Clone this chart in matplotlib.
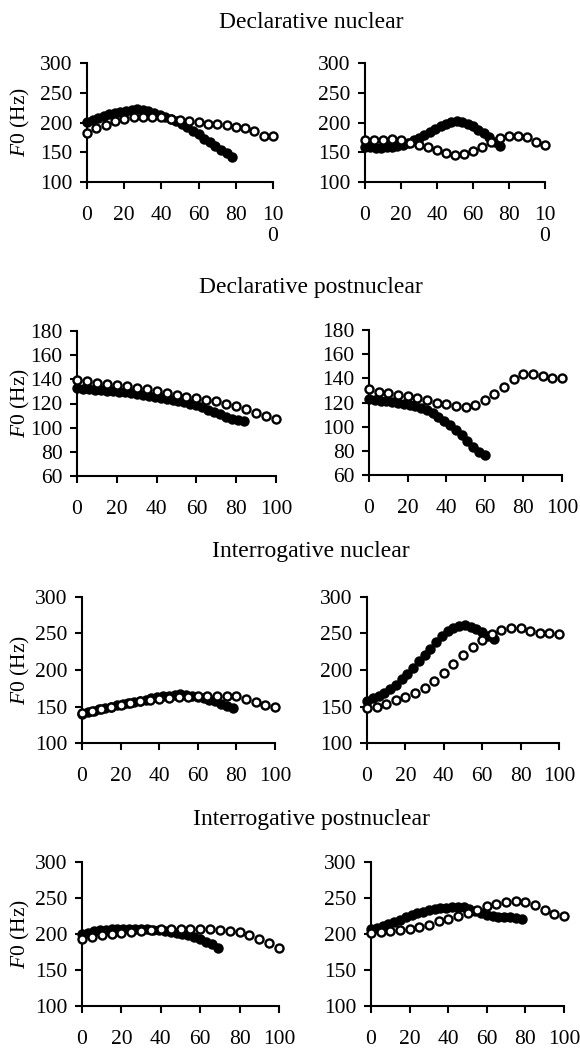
import matplotlib

matplotlib.use("Agg")

import numpy as np
import matplotlib.pyplot as plt

# open circles are sampled every 5 %, filled ones every 3 %
OPEN_X = np.arange(0, 101, 5)

TITLES = ["Declarative nuclear", "Declarative postnuclear",
          "Interrogative nuclear", "Interrogative postnuclear"]

# row 1: declarative nuclear
dn_l_open = [182, 190, 195, 202, 206, 209, 210, 210, 209, 206, 205,
             203, 201, 198, 197, 195, 192, 190, 186, 178, 177]
dn_l_fill_x = np.arange(0, 79, 3)
dn_l_fill = [201, 205, 208, 211, 214, 216, 218, 220, 221, 222, 221, 219,
             216, 213, 210, 206, 202, 197, 192, 186, 180, 173, 167, 161,
             154, 148, 142]
dn_r_open = [171, 170, 171, 173, 170, 166, 162, 159, 153, 148, 145,
             147, 152, 159, 167, 174, 178, 178, 175, 168, 162]
dn_r_fill_x = np.arange(0, 76, 3)
dn_r_fill = [159, 158, 157, 157, 158, 159, 161, 163, 166, 170, 174, 179,
             184, 189, 194, 198, 201, 202, 201, 198, 194, 188, 182, 175,
             167, 160]

# row 2: declarative postnuclear
dp_l_open = [139.8, 138.4, 137.3, 136.5, 135.7, 134.3, 133.2, 132.1, 130.5,
             128.8, 126.9, 125.5, 124.4, 123.3, 121.9, 120, 117.8, 115.3,
             112.3, 109.5, 106.8]
dp_l_fill_x = np.arange(0, 85, 3)
dp_l_fill = [132.5, 132.2, 131.8, 131.4, 131, 130.6, 130.2, 129.7, 129.2,
             128.6, 128, 127.3, 126.5, 125.7, 124.9, 124, 123, 122, 121,
             119.8, 118.5, 117, 115, 113, 111, 109, 107, 106, 105.5]
dp_r_open = [131, 128.5, 127.5, 126, 125, 123.5, 122, 120, 118.5, 117,
             116.5, 118, 122, 127, 133, 139.5, 143.5, 144, 142, 140, 140]
dp_r_fill_x = np.arange(0, 61, 3)
dp_r_fill = [122.5, 122, 121.5, 121, 120.5, 119.8, 119, 118, 117, 115.5,
             113.5, 111, 108, 105, 101.5, 97.5, 93, 88, 83, 79, 76.5]

# row 3: interrogative nuclear
in_l_open = [141, 143.6, 146.8, 149, 152.2, 155, 157.3, 159.2, 160.6, 162,
             162.9, 162.9, 163.8, 164.3, 164.7, 164.3, 163.8, 160.6, 156,
             151.4, 149]
in_l_fill_x = np.arange(0, 79, 3)
in_l_fill = [140, 142, 144, 146, 148, 150, 152, 153.5, 155, 156.5, 158,
             159.5, 161, 162.5, 164, 165, 166, 166.5, 166, 165, 163.5,
             161.5, 159.5, 157, 154, 151, 148]
in_r_open = [148.2, 150, 153.7, 158.3, 162.9, 168.8, 175.7, 185, 196,
             208.9, 220.4, 231.9, 241.1, 248.9, 254.9, 258.1, 257.2, 254,
             250.3, 250.3, 248.9]
in_r_fill_x = np.arange(0, 67, 3)
in_r_fill = [158, 161, 165, 169, 174, 180, 187, 195, 203, 212, 220, 229,
             238, 247, 253, 258, 260.5, 261, 259, 256, 252, 247, 243]

# row 4: interrogative postnuclear
ip_l_open = [193.3, 195.2, 198, 200.2, 202, 203.4, 204.8, 205.7, 206.7,
             207.6, 207.6, 207.1, 206.7, 207.1, 205.7, 204.8, 202.5, 198.9,
             193.3, 187.4, 180.5]
ip_l_fill_x = np.arange(0, 70, 3)
ip_l_fill = [200, 202, 203.5, 205, 206, 206.5, 207, 207.5, 207.5, 207, 207,
             206.5, 206, 205, 204, 203, 201.5, 200, 198, 196, 193, 189.5,
             186, 181]
ip_r_open = [200.7, 202.1, 203.9, 205.3, 207.6, 209.8, 213, 217.6, 221.3,
             224.9, 229.1, 232.7, 238.2, 241.9, 245.1, 246.5, 244.2, 240.5,
             233.6, 228.1, 224.9]
ip_r_fill_x = np.arange(0, 79, 3)
ip_r_fill = [207, 209, 211, 214, 217, 220, 223, 226, 229, 231, 233, 234.5,
             235.5, 236.5, 237, 237.5, 237, 235, 232, 229.5, 227, 225, 223.5,
             223, 223.5, 222.5, 221.5]

Y_TICKS_A = [100, 150, 200, 250, 300]
Y_TICKS_B = [60, 80, 100, 120, 140, 160, 180]
X_TICKS = [0, 20, 40, 60, 80, 100]

W, H = 580, 1050


def box(x0, x1, y0, y1):
    # pixel box -> figure fraction
    return [x0 / W, 1 - y1 / H, (x1 - x0) / W, (y1 - y0) / H]


def main():
    plt.rcParams["font.family"] = ["Liberation Serif", "DejaVu Serif"]
    plt.rcParams["font.size"] = 15.5
    plt.rcParams["mathtext.fontset"] = "custom"
    plt.rcParams["mathtext.it"] = "Liberation Serif:italic"
    plt.rcParams["mathtext.rm"] = "Liberation Serif"

    fig = plt.figure(figsize=(W / 100, H / 100), dpi=100)

    panels = [
        (box(87, 273, 63, 182), dn_l_fill_x, dn_l_fill, dn_l_open, Y_TICKS_A, True),
        (box(365, 545, 63, 182), dn_r_fill_x, dn_r_fill, dn_r_open, Y_TICKS_A, True),
        (box(77, 276, 331, 476), dp_l_fill_x, dp_l_fill, dp_l_open, Y_TICKS_B, False),
        (box(369, 562, 330, 475), dp_r_fill_x, dp_r_fill, dp_r_open, Y_TICKS_B, False),
        (box(82, 275, 597, 743), in_l_fill_x, in_l_fill, in_l_open, Y_TICKS_A, False),
        (box(367, 559, 597, 743), in_r_fill_x, in_r_fill, in_r_open, Y_TICKS_A, False),
        (box(82, 279, 862, 1006), ip_l_fill_x, ip_l_fill, ip_l_open, Y_TICKS_A, False),
        (box(371, 564, 862, 1006), ip_r_fill_x, ip_r_fill, ip_r_open, Y_TICKS_A, False),
    ]

    for rect, fx, fy, oy, yt, wrap in panels:
        ax = fig.add_axes(rect)
        ax.plot(fx, fy, "o", color="black", ms=5.8, mew=1.7, clip_on=False, zorder=3)
        ax.plot(OPEN_X, oy, "o", mfc="white", mec="black", ms=5.8, mew=1.7,
                clip_on=False, zorder=4)
        ax.set_xlim(0, 100)
        ax.set_ylim(yt[0], yt[-1])
        ax.set_yticks(yt)
        ax.set_xticks(X_TICKS)
        if wrap:
            ax.set_xticklabels(["0", "20", "40", "60", "80", "10\n0"])
        for s in ("top", "right"):
            ax.spines[s].set_visible(False)
        for s in ("left", "bottom"):
            ax.spines[s].set_linewidth(1.5)
        ax.tick_params(axis="both", direction="out", length=5, width=1.5)
        ax.tick_params(axis="y", pad=5.5)
        ax.tick_params(axis="x", pad=12)

    for i, t in enumerate(TITLES):
        fig.text(311 / W, 1 - [23, 287, 552, 820][i] / H, t, ha="center",
                 va="center", fontsize=17)

    for yc in [122, 403, 670, 934]:
        fig.text(20 / W, 1 - yc / H, r"$\mathit{F0}$ (Hz)", rotation=90,
                 ha="center", va="center")

    fig.savefig("out.png", dpi=100)
    plt.close(fig)


if __name__ == "__main__":
    main()
